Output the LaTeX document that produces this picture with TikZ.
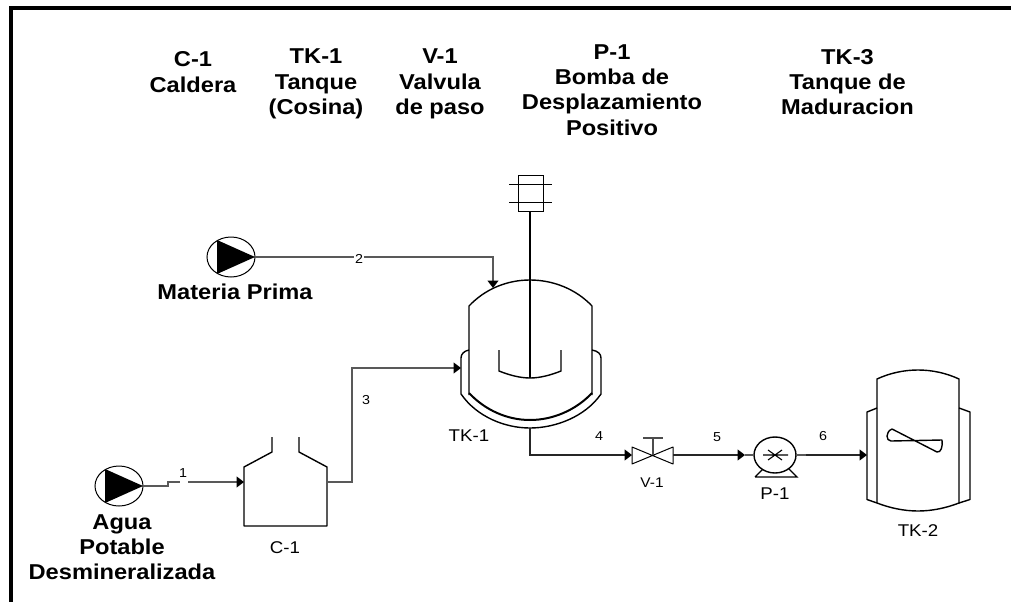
\documentclass[tikz,border=0pt]{standalone}
\usepackage{fontspec}
\setmainfont{Liberation Sans}
\newfontfamily\widefont[FakeStretch=1.1]{Liberation Sans}
\usetikzlibrary{arrows.meta}
\definecolor{pipe}{gray}{0.35}
\tikzset{
  x=1pt,y=-1pt,
  title/.style={font=\widefont\fontsize{21.5}{25.2}\selectfont\bfseries,align=center,inner sep=0pt,text=black},
  tag/.style={font=\widefont\fontsize{17}{20}\selectfont,inner sep=0pt},
  smalltag/.style={font=\widefont\fontsize{14}{16}\selectfont,inner sep=0pt},
  num/.style={font=\widefont\fontsize{13}{15}\selectfont,inner sep=1pt},
  vessel/.style={line width=1.4pt,line join=round},
  thin shape/.style={line width=1pt},
  bare pipe/.style={line width=1.4pt,draw=pipe},
  pipeline/.style={line width=1.4pt,draw=pipe,-{Triangle[length=7.5pt,width=11pt,color=black,fill=black]}},
  plain pipe/.style={line width=1.2pt,draw=black!85,-{Triangle[length=7.5pt,width=11pt,color=black,fill=black]}},
}
\begin{document}
\begin{tikzpicture}
\useasboundingbox (0,0) rectangle (1011,602);
\fill[white] (0,0) rectangle (1011,602);
% frame
\draw[line width=3.8pt] (1011,8) -- (11,8) -- (11,602);
% titles
\node[title] (tc) at (193,72) {C-1\\Caldera};
\node[title] (tt) at (316,84) {TK-1\\Tanque\\(Cosina)};
\node[title] (tv) at (440,84) {V-1\\Valvula\\de paso};
\node[title] (tp) at (612,90) {P-1\\Bomba de\\Desplazamiento\\Positivo};
\node[title] (tm) at (847.5,82) {TK-3\\Tanque de\\Maduracion};
% C-1
\draw[vessel] (272,437) -- (272,452) -- (244,467) -- (244,526) -- (327,526) -- (327,467) -- (299,452) -- (299,437);
\coordinate (c1in) at (244,482);
\coordinate (c1out) at (327,482);
\node[tag] (c1) at (285,548) {C-1};
% feed pump A
\draw[thin shape] (119,486) ellipse (24 and 20);
\fill (105,469) -- (143,486) -- (105,503) -- cycle;
\coordinate (pa) at (143,486);
\node[title] (agua) at (122,547.5) {Agua\\Potable\\Desmineralizada};
% feed pump B
\draw[thin shape] (231,257) ellipse (24 and 20);
\fill (217,240) -- (255,257) -- (217,274) -- cycle;
\coordinate (pb) at (255,257);
\node[title] (mp) at (235,292) {Materia Prima};
% TK-1
\draw[thin shape] (518,175) rectangle (543,211);
\draw[thin shape] (509,184) -- (552,184) (509,202) -- (552,202);
\draw[vessel] (530,211) -- (530,378);
\draw[vessel] (469,395) -- (469,306) .. controls (485,289) and (507,280) .. (530,280) .. controls (553,280) and (576,289) .. (592,306) -- (592,395);
\draw[vessel,line width=2pt] (469,393) .. controls (485,410) and (507,420) .. (530,420) .. controls (553,420) and (576,410) .. (592,393);
\draw[vessel] (469,350) .. controls (464,351) and (461,354) .. (461,358) -- (461,394) .. controls (477,417) and (505,428) .. (530,428) .. controls (555,428) and (585,417) .. (601,394) -- (601,358) .. controls (601,354) and (598,351) .. (592,350);
\draw[vessel] (499,350) -- (499,371) .. controls (509,375) and (520,378) .. (530,378) .. controls (540,378) and (551,375) .. (561,371) -- (561,350);
\coordinate (t1a) at (493,288);
\coordinate (t1b) at (461,368);
\coordinate (t1out) at (530,428);
\node[tag] (tk1) at (469,436) {TK-1};
% valve
\draw[thin shape,line join=round] (632,447) -- (673,464) -- (673,447) -- (632,464) -- cycle;
\draw[line width=1.2pt,draw=black!70] (653,455) -- (653,438) (643,438) -- (663,438);
\coordinate (vin) at (632,455);
\coordinate (vout) at (673,455);
\node[smalltag] (v1) at (652,483) {V-1};
% pump P-1
\draw[line width=1.3pt] (755,477) -- (797,477) -- (788,468) (755,477) -- (764,468);
\draw[vessel,fill=white] (775,455) ellipse (21 and 18);
\draw[line width=1.1pt] (763,455) -- (788,455) (768,450) -- (782,460) (768,460) -- (782,450);
\draw[bare pipe] (745,455) -- (754,455) (796,455) -- (806,455);
\coordinate (p1in) at (745,455);
\coordinate (p1out) at (806,455);
\node[tag] (p1) at (775,494) {P-1};
% TK-2
\draw[vessel] (877,503) -- (877,379) .. controls (890,373) and (904,370) .. (918,370) .. controls (932,370) and (946,373) .. (959,379) -- (959,503) .. controls (946,508) and (932,511) .. (918,511) .. controls (904,511) and (890,508) .. (877,503);
\draw[vessel] (877,408) -- (867,412) -- (867,499.5) -- (877,503);
\draw[vessel] (959,408) -- (970,412) -- (970,499.5) -- (959,503);
\draw[vessel] (892,429) -- (937,452) .. controls (941,453) and (943,446) .. (942,440) -- (891,441) .. controls (886,441) and (885,432) .. (892,429);
\coordinate (t2in) at (867,455);
\node[tag] (tk2) at (918,531) {TK-2};
% pipes
\coordinate (s1) at (168,486);
\coordinate (s2) at (168,482);
\coordinate (s3) at (180,482);
\coordinate (s4) at (188,482);
\draw[bare pipe] (pa) -- (s1) -- (s2) -- (s3);
\draw[pipeline] (s4) -- (c1in);
\node[num] (n1) at (183,473) {1};
\draw[pipeline] (pb) -- (493,257) -- (t1a);
\node[num,fill=white] (n2) at (359,259) {2};
\draw[pipeline] (c1out) -- (352,482) -- (352,368) -- (t1b);
\node[num] (n3) at (366,400) {3};
\draw[plain pipe] (t1out) -- (530,455) -- (vin);
\node[num] (n4) at (599,436) {4};
\draw[plain pipe] (vout) -- (p1in);
\node[num] (n5) at (717,437) {5};
\draw[plain pipe] (p1out) -- (t2in);
\node[num] (n6) at (823,436) {6};
\end{tikzpicture}
\end{document}
